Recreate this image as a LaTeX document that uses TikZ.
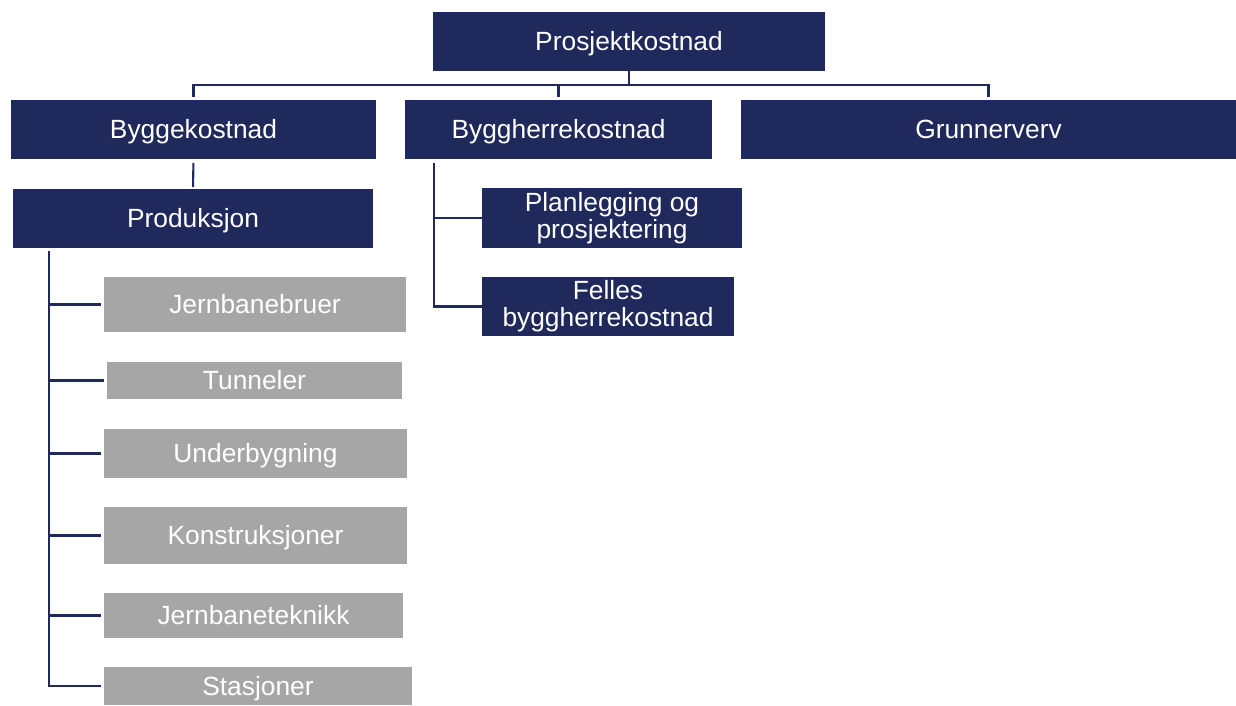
\documentclass[tikz,border=0pt]{standalone}
\usepackage{fontspec}
\setmainfont{Liberation Sans}
\definecolor{navy}{HTML}{1F295B}
\definecolor{lightgrey}{HTML}{A6A6A6}
\begin{document}
\begin{tikzpicture}[
        every node/.style={inner sep=0pt, outer sep=0pt, text=white, align=center,
            font=\fontsize{15}{15.5}\selectfont},
        oneline/.style={text height=10.7pt, text depth=0pt},
        main/.style={fill=navy},
        sub/.style={fill=lightgrey, oneline},
        link/.style={draw=navy, line width=1.2pt},
    ]
    \useasboundingbox (0,0) rectangle (24.72,-14.10);
    % top level
    \node[main, oneline, minimum width=7.84cm, minimum height=1.18cm](prosjekt) at (12.58,-0.83){Prosjektkostnad};
    % second level
    \node[main, oneline, minimum width=7.30cm, minimum height=1.18cm](bygg) at (3.87,-2.59){Byggekostnad};
    \node[main, oneline, minimum width=6.14cm, minimum height=1.18cm](byggherre) at (11.17,-2.59){Byggherrekostnad};
    \node[main, oneline, minimum width=9.90cm, minimum height=1.18cm](grunn) at (19.77,-2.59){Grunnerverv};
    % under byggekostnad
    \node[main, oneline, minimum width=7.20cm, minimum height=1.18cm](prod) at (3.86,-4.37){Produksjon};
    % under byggherrekostnad
    \node[main, minimum width=5.20cm, minimum height=1.20cm](plan) at (12.24,-4.36){Planlegging og\\prosjektering};
    \node[main, minimum width=5.04cm, minimum height=1.18cm](felles) at (12.16,-6.13){Felles\\byggherrekostnad};
    % under produksjon
    \node[sub, minimum width=6.04cm, minimum height=1.10cm](bruer) at (5.10,-6.09){Jernbanebruer};
    \node[sub, minimum width=5.90cm, minimum height=0.74cm](tunnel) at (5.09,-7.61){Tunneler};
    \node[sub, minimum width=6.06cm, minimum height=0.98cm](under) at (5.11,-9.07){Underbygning};
    \node[sub, minimum width=6.06cm, minimum height=1.14cm](konstr) at (5.11,-10.71){Konstruksjoner};
    \node[sub, minimum width=5.98cm, minimum height=0.90cm](teknikk) at (5.07,-12.31){Jernbaneteknikk};
    \node[sub, minimum width=6.16cm, minimum height=0.76cm](stasjon) at (5.16,-13.72){Stasjoner};

    % connectors
    \foreach \n in {bygg,byggherre,grunn}
        \draw[link, shorten >=0.06cm] (prosjekt.south) -- ++(0,-0.28) -| (\n.north);
    \draw[link, shorten <=0.08cm, shorten >=0.04cm] (bygg.south) -- (prod.north);
    \foreach \n in {plan,felles}
        \draw[link, shorten <=0.08cm] ([xshift=0.58cm]byggherre.south west) |- (\n.west);
    \foreach \n in {bruer,tunnel,under,konstr,teknikk,stasjon}
        \draw[link, shorten <=0.06cm, shorten >=0.06cm] ([xshift=0.72cm]prod.south west) |- (\n.west);
\end{tikzpicture}
\end{document}
